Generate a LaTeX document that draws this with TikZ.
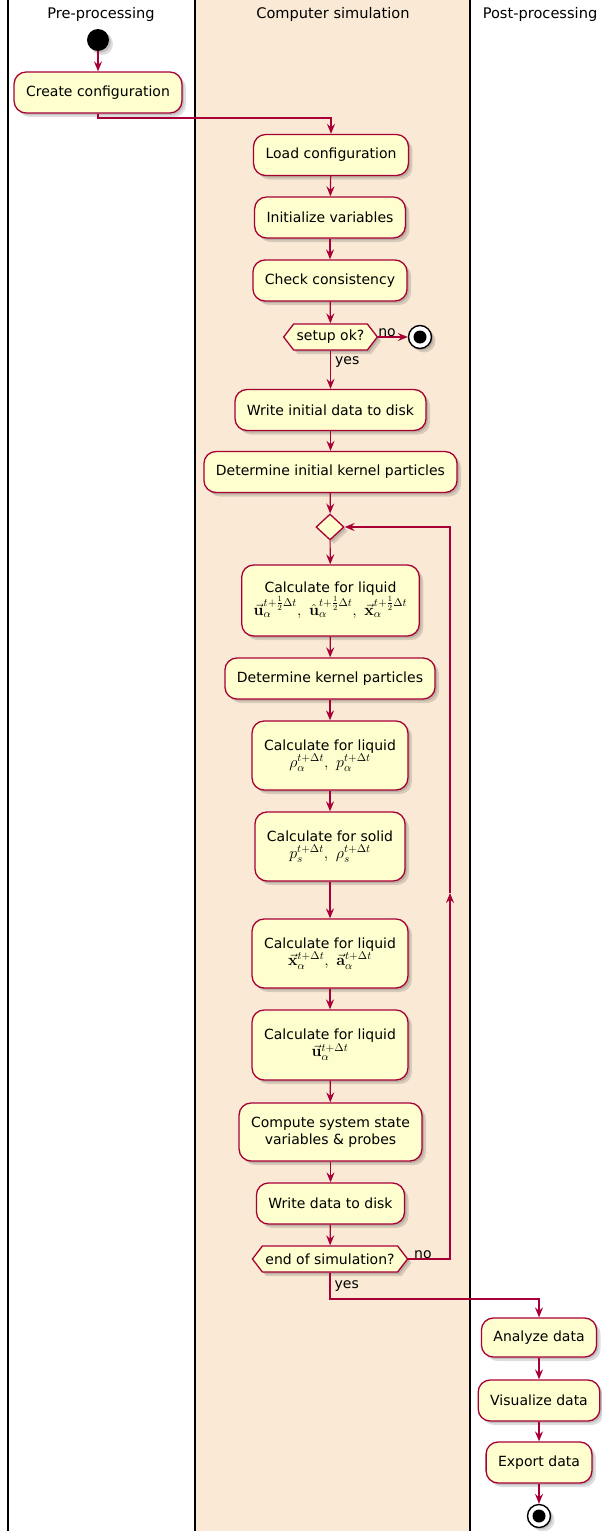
\RequirePackage{fix-cm}
\documentclass[tikz,border=0pt]{standalone}
\usepackage{amsmath}
\usepackage[no-math]{fontspec}
\setmainfont{DejaVu Sans}
\usetikzlibrary{arrows.meta,shapes.geometric,shapes.symbols,shadows}

\definecolor{laneFill}{RGB}{249,233,213}
\definecolor{boxFill}{RGB}{254,254,206}
\definecolor{crimson}{RGB}{168,0,54}

\newcommand{\formula}[1]{{\fontsize{16}{19}\selectfont$#1$}}

\tikzset{
  shade box/.style={drop shadow={shadow xshift=2pt,shadow yshift=-2pt,fill=black,opacity=0.13},
    drop shadow={shadow xshift=4pt,shadow yshift=-4pt,fill=black,opacity=0.13}},
  action/.style={rectangle, rounded corners=12pt, draw=crimson, line width=1.3pt,
    fill=boxFill, shade box, inner xsep=12pt, inner ysep=4pt, minimum height=41pt,
    align=center, font=\fontsize{14}{17}\selectfont},
  twoline/.style={action, minimum height=#1},
  decision/.style={signal, signal to=east and west, signal pointer angle=105,
    draw=crimson, line width=1.3pt, fill=boxFill, shade box, inner xsep=3pt,
    inner ysep=2pt, minimum height=26pt, font=\fontsize{14}{17}\selectfont},
  merge/.style={diamond, draw=crimson, line width=1.3pt, fill=boxFill, shade box,
    minimum width=28pt, minimum height=26pt, inner sep=0pt},
  startdot/.style={circle, fill=black, minimum size=22pt, inner sep=0pt, shade box},
  enddot/.style={circle, draw=black, line width=1.4pt, fill=white, minimum size=23pt,
    inner sep=0pt, shade box, path picture={\fill[black] (path picture bounding box.center) circle (6.5pt);}},
  flow/.style={draw=crimson, line width=1.2pt, -{Stealth[length=10pt,width=8pt,inset=3.5pt]}},
  lbl/.style={font=\fontsize{14}{17}\selectfont, inner sep=1pt},
  lane/.style={draw=black, line width=2pt},
  header/.style={font=\fontsize{14.6}{17}\selectfont, inner sep=0pt}
}

\begin{document}
\begin{tikzpicture}[x=1pt,y=-1pt]
  \useasboundingbox (0,0) rectangle (602,1531);

  % swimlanes
  \fill[laneFill] (195,0) rectangle (470,1531);
  \draw[lane] (8,0) -- (8,1531);
  \draw[lane] (195,0) -- (195,1531);
  \draw[lane] (470,0) -- (470,1531);
  \node[header] (h1) at (101,14) {Pre-processing};
  \node[header] (h2) at (333,14) {Computer simulation};
  \node[header] (h3) at (540,14) {Post-processing};

  % pre-processing
  \node[startdot] (start) at (98,40) {};
  \node[action] (create) at (98,92.5) {Create configuration};

  % simulation
  \node[action] (load) at (331,155) {Load configuration};
  \node[action] (init) at (330,217.5) {Initialize variables};
  \node[action] (check) at (330,280.5) {Check consistency};
  \node[decision] (ok) at (330.5,337) {setup ok?};
  \node[enddot] (stop1) at (420,337) {};
  \node[action] (writeinit) at (330.5,410) {Write initial data to disk};
  \node[action] (detinit) at (330.5,472) {Determine initial kernel particles};
  \node[merge] (loop) at (330,527) {};
  \node[twoline=71pt] (calc1) at (330.5,600.5) {Calculate for liquid\\
    \formula{\vec{\mathbf{u}}_\alpha^{t+\frac{1}{2}\Delta t},\ \hat{\mathbf{u}}_\alpha^{t+\frac{1}{2}\Delta t},\ \vec{\mathbf{x}}_\alpha^{t+\frac{1}{2}\Delta t}}};
  \node[action] (detk) at (330,678.5) {Determine kernel particles};
  \node[twoline=69pt] (calc2) at (330,755.5) {Calculate for liquid\\
    \formula{\rho_\alpha^{t+\Delta t},\ p_\alpha^{t+\Delta t}}};
  \node[twoline=69pt] (calc3) at (330,846.5) {Calculate for solid\\
    \formula{p_s^{t+\Delta t},\ \rho_s^{t+\Delta t}}};
  \node[twoline=69pt] (calc4) at (330,953.5) {Calculate for liquid\\
    \formula{\vec{\mathbf{x}}_\alpha^{t+\Delta t},\ \vec{\mathbf{a}}_\alpha^{t+\Delta t}}};
  \node[twoline=70pt] (calc5) at (330,1045) {Calculate for liquid\\
    \formula{\vec{\mathbf{u}}_\alpha^{t+\Delta t}}};
  \node[twoline=58pt] (compute) at (330.5,1132) {Compute system state\\ variables \& probes};
  \node[action] (writed) at (330.5,1203.5) {Write data to disk};
  \node[decision] (eos) at (330,1259) {end of simulation?};

  % post-processing
  \node[action, minimum height=39pt] (analyze) at (539,1337.5) {Analyze data};
  \node[action] (visualize) at (539,1400.5) {Visualize data};
  \node[action] (export) at (539,1462.5) {Export data};
  \node[enddot] (stop2) at (539,1516) {};

  % bend points
  \coordinate (c1) at (98,118);
  \coordinate (backA) at (450,1259);
  \coordinate (backM) at (450,893);
  \coordinate (backB) at (450,527);
  \coordinate (c2) at (330,1299);

  % connectors
  \draw[flow] (start) -- (create);
  \draw[flow] (create.south) -- (c1) -| (load.north);
  \draw[flow] (load) -- (init);
  \draw[flow] (init) -- (check);
  \draw[flow] (check) -- (ok);
  \draw[flow] (ok.east) -- node[lbl, pos=0.3, above=-1pt] {no} (stop1);
  \draw[flow] (ok.south) -- node[lbl, pos=0.3, right=3pt] {yes} (writeinit.north);
  \draw[flow] (writeinit) -- (detinit);
  \draw[flow] (detinit) -- (loop);
  \draw[flow] (loop) -- (calc1);
  \draw[flow] (calc1) -- (detk);
  \draw[flow] (detk) -- (calc2);
  \draw[flow] (calc2) -- (calc3);
  \draw[flow] (calc3) -- (calc4);
  \draw[flow] (calc4) -- (calc5);
  \draw[flow] (calc5) -- (compute);
  \draw[flow] (compute) -- (writed);
  \draw[flow] (writed) -- (eos);
  \draw[flow] (eos.east) -- node[lbl, pos=0.35, above=-1pt] {no} (backA) -- (backM);
  \draw[flow] (backM) -- (backB) -- (loop.east);
  \draw[flow] (eos.south) -- node[lbl, pos=0.5, right=3pt] {yes} (c2) -| (analyze.north);
  \draw[flow] (analyze) -- (visualize);
  \draw[flow] (visualize) -- (export);
  \draw[flow] (export) -- (stop2);
\end{tikzpicture}
\end{document}
